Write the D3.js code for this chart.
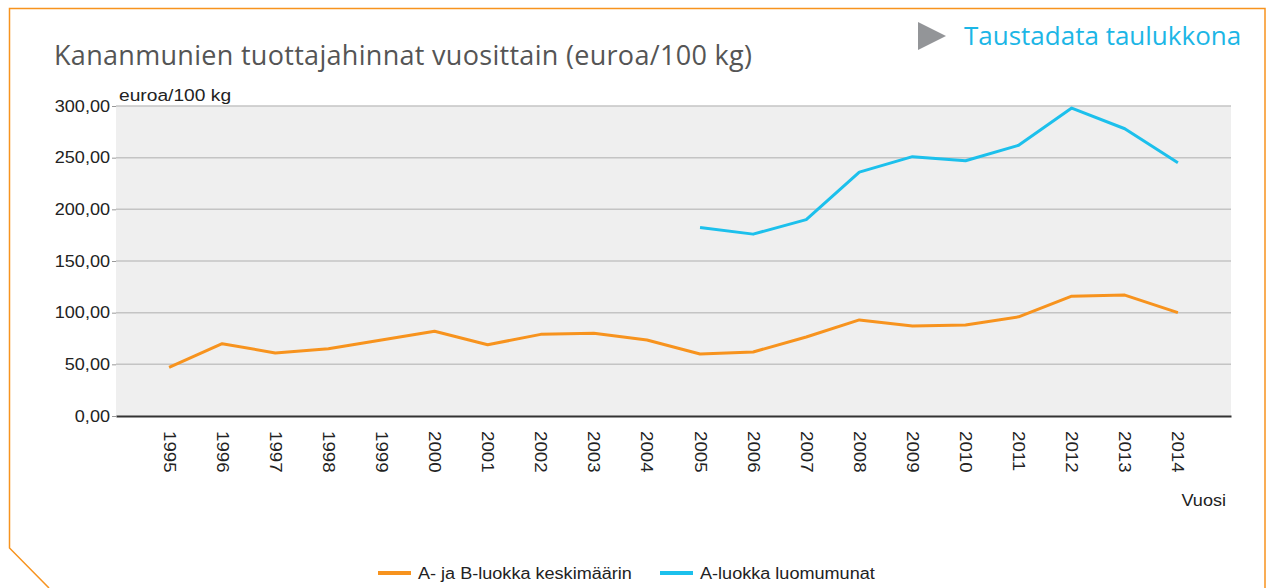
<!DOCTYPE html>
<html>
<head>
<meta charset="utf-8">
<script src="https://cdn.jsdelivr.net/npm/d3@7"></script>
<style>
  body { margin: 0; background: #fff; }
  svg text { font-family: "Liberation Sans", Arial, sans-serif; }
</style>
</head>
<body>
<div id="chart"></div>
<script>
// data
const years = ["1995","1996","1997","1998","1999","2000","2001","2002","2003","2004",
               "2005","2006","2007","2008","2009","2010","2011","2012","2013","2014"];
const avgAB = [47, 70, 61, 65, 73.5, 82, 69, 79, 80, 73.5,
               60, 62, 76.5, 93, 87, 88, 96, 116, 117, 100];
const organicA = [null, null, null, null, null, null, null, null, null, null,
                  182.5, 176, 190, 236, 251, 247, 262, 298, 278, 245];
const yTicks = [0, 50, 100, 150, 200, 250, 300];
const seriesNames = ["A- ja B-luokka keskimäärin", "A-luokka luomumunat"];

const W = 1272, H = 588;
const margin = {top: 106, right: 41, bottom: 172, left: 116};
const width = W - margin.left - margin.right;
const height = H - margin.top - margin.bottom;
const sx = 1.13; // the original text renders a bit wider

const svg = d3.select("#chart")
  .append("svg")
  .attr("width", W)
  .attr("height", H);

// orange frame with cut corner
svg.append("path")
  .attr("d", "M49,588 L9.5,548 L9.5,8.5 L1265,8.5 L1265,588")
  .attr("fill", "none")
  .attr("stroke", "#f7931e")
  .attr("stroke-width", 1.5);

// title
svg.append("text")
  .attr("x", 54)
  .attr("y", 65)
  .attr("font-size", "27px")
  .attr("letter-spacing", "0.3px")
  .attr("fill", "#555")
  .style("font-family", "'Open Sans', sans-serif")
  .text("Kananmunien tuottajahinnat vuosittain (euroa/100 kg)");

// link
svg.append("path")
  .attr("d", "M918,22 L946,36 L918,50 Z")
  .attr("fill", "#939598");
svg.append("text")
  .attr("x", 964)
  .attr("y", 45)
  .attr("font-size", "26px")
  .attr("fill", "#1cb6e6")
  .style("font-family", "'Open Sans', sans-serif")
  .text("Taustadata taulukkona");

const g = svg.append("g")
  .attr("transform", `translate(${margin.left},${margin.top})`);

const x = d3.scalePoint().domain(years).range([0, width]).padding(1);
const y = d3.scaleLinear().domain([0, 300]).range([height, 0]);

g.append("rect")
  .attr("width", width)
  .attr("height", height)
  .attr("fill", "#efefef");

// grid
g.selectAll("line.grid")
  .data(yTicks.slice(1))
  .join("line")
  .attr("class", "grid")
  .attr("x1", 0).attr("x2", width)
  .attr("y1", d => y(d)).attr("y2", d => y(d))
  .attr("stroke", "#c4c4c4")
  .attr("stroke-width", 1.5);

// y axis
const yAxis = d3.axisLeft(y).tickValues(yTicks).tickSize(4).tickPadding(2)
  .tickFormat(d => d3.format(".2f")(d).replace(".", ","));
const yg = g.append("g").call(yAxis);
yg.select(".domain").remove();
yg.selectAll("line").attr("stroke", "#999");
yg.selectAll("text")
  .attr("font-size", "16px").attr("fill", "#222")
  .style("font-family", "'Liberation Sans', Arial, sans-serif")
  .attr("x", 0)
  .attr("transform", `translate(-6,0) scale(${sx},1)`);

// x axis
const xAxis = d3.axisBottom(x).tickSize(0).tickPadding(0);
const xg = g.append("g").attr("transform", `translate(0,${height})`).call(xAxis);
xg.select(".domain").attr("stroke", "#333").attr("stroke-width", 2);
xg.selectAll("text")
  .attr("font-size", "16px")
  .attr("fill", "#222")
  .style("font-family", "'Liberation Sans', Arial, sans-serif")
  .attr("text-anchor", "start")
  .attr("y", 0)
  .attr("dy", "0")
  .attr("transform", "translate(-6,15) rotate(90) scale(1.17,1)");

// axis labels
g.append("text")
  .attr("transform", `translate(3,-5) scale(${sx},1)`)
  .attr("font-size", "17px")
  .attr("fill", "#222")
  .text("euroa/100 kg");
g.append("text")
  .attr("transform", `translate(${width - 5},${height + 90}) scale(${sx},1)`)
  .attr("text-anchor", "end")
  .attr("font-size", "16px")
  .attr("fill", "#222")
  .text("Vuosi");

// lines
const colors = ["#f7931e", "#1cc0ec"];
const line = d3.line()
  .defined(d => d[1] != null)
  .x(d => x(d[0]))
  .y(d => y(d[1]));

[avgAB, organicA].forEach((vals, i) => {
  g.append("path")
    .datum(years.map((yr, j) => [yr, vals[j]]))
    .attr("fill", "none")
    .attr("stroke", colors[i])
    .attr("stroke-width", 3)
    .attr("stroke-linejoin", "round")
    .attr("d", line);
});

// legend
const legendX = [378, 660];
seriesNames.forEach((name, i) => {
  svg.append("line")
    .attr("x1", legendX[i]).attr("x2", legendX[i] + 33)
    .attr("y1", 573).attr("y2", 573)
    .attr("stroke", colors[i])
    .attr("stroke-width", 4);
  svg.append("text")
    .attr("transform", `translate(${legendX[i] + 40},579) scale(${sx},1)`)
    .attr("font-size", "16px")
    .attr("fill", "#222")
    .text(name);
});
</script>
</body>
</html>
